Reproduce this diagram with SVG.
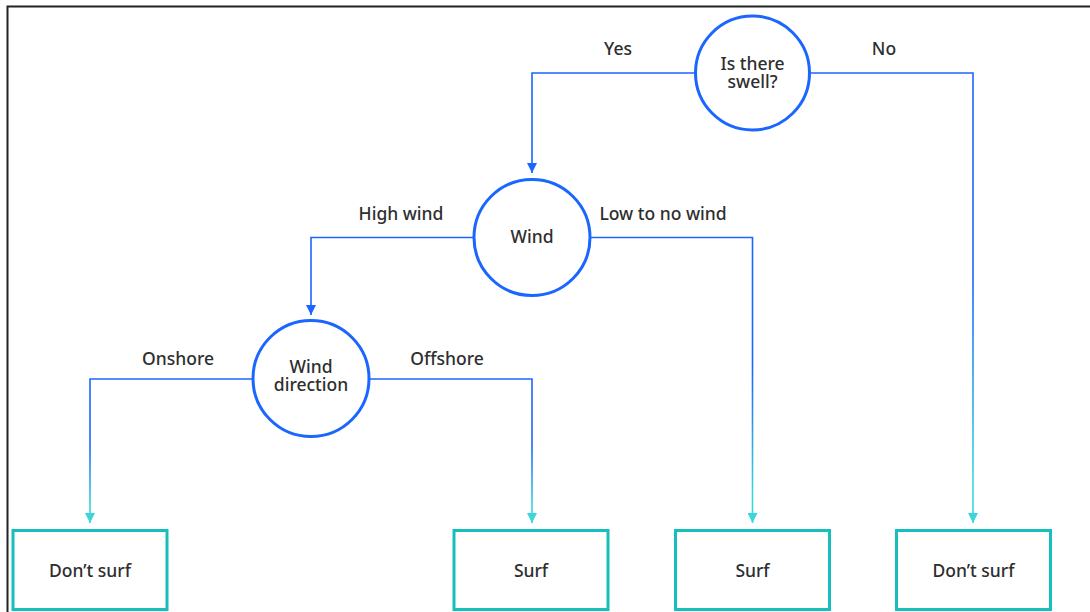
<svg xmlns="http://www.w3.org/2000/svg" width="1090" height="612" viewBox="0 0 1090 612">
  <style>
    .q { fill: #ffffff; stroke: #1a66ff; stroke-width: 3; }
    .leaf { fill: #ffffff; stroke: #17bfbc; stroke-width: 3; }
    .t { font-family: "Noto Sans", "Open Sans", sans-serif; font-size: 17.5px; font-weight: 500; fill: #2e2e2e; text-anchor: middle; }
    .edge { fill: none; stroke-width: 1.6; }
    .blue { stroke: #1a66ff; }
    .grad { stroke: url(#g); }
  </style>
  <defs>
    <linearGradient id="g" x1="0" y1="0" x2="0" y2="1">
      <stop offset="0.45" stop-color="#1a66ff"/>
      <stop offset="0.9" stop-color="#3bd6dc"/>
    </linearGradient>
    <marker id="ab" viewBox="0 0 10 10" refX="10" refY="5" markerWidth="10" markerHeight="10" markerUnits="userSpaceOnUse" orient="auto">
      <path d="M0,0 L10,5 L0,10 Z" fill="#1a66ff"/>
    </marker>
    <marker id="ac" viewBox="0 0 10 10" refX="10" refY="5" markerWidth="10" markerHeight="10" markerUnits="userSpaceOnUse" orient="auto">
      <path d="M0,0 L10,5 L0,10 Z" fill="#3bd6dc"/>
    </marker>
  </defs>

  <rect x="0" y="0" width="1090" height="612" fill="#ffffff"/>
  <g id="frame" fill="none" stroke="#222222" stroke-width="2">
    <path d="M7.5,612 V6.5 H1090"/>
  </g>

  <g id="connectors">
    <path class="edge blue" d="M695,73 H532 V173" marker-end="url(#ab)"/>
    <path class="edge grad" d="M810,73 H973 V523" marker-end="url(#ac)"/>
    <path class="edge blue" d="M474,237.5 H311 V315" marker-end="url(#ab)"/>
    <path class="edge grad" d="M590,237.5 H752.5 V523" marker-end="url(#ac)"/>
    <path class="edge grad" d="M253,379 H90 V523" marker-end="url(#ac)"/>
    <path class="edge grad" d="M369,379 H532 V523" marker-end="url(#ac)"/>
    <text class="t" x="618" y="55">Yes</text>
    <text class="t" x="884" y="55">No</text>
    <text class="t" x="401" y="220">High wind</text>
    <text class="t" x="663" y="220">Low to no wind</text>
    <text class="t" x="178" y="365">Onshore</text>
    <text class="t" x="447" y="365">Offshore</text>
  </g>

  <g id="swell">
    <circle class="q" cx="752.5" cy="73" r="57"/>
    <text class="t" x="752.5" y="70">Is there<tspan x="752.5" dy="18">swell?</tspan></text>
  </g>
  <g id="wind">
    <circle class="q" cx="532" cy="237.5" r="58"/>
    <text class="t" x="532" y="243">Wind</text>
  </g>
  <g id="winddir">
    <circle class="q" cx="311" cy="378.5" r="58"/>
    <text class="t" x="311" y="373">Wind<tspan x="311" dy="18">direction</tspan></text>
  </g>

  <g id="leaf1">
    <rect class="leaf" x="13" y="530.5" width="154" height="79"/>
    <text class="t" x="90" y="577">Don’t surf</text>
  </g>
  <g id="leaf2">
    <rect class="leaf" x="454" y="530.5" width="154" height="79"/>
    <text class="t" x="531" y="577">Surf</text>
  </g>
  <g id="leaf3">
    <rect class="leaf" x="675.5" y="530.5" width="154" height="79"/>
    <text class="t" x="752.5" y="577">Surf</text>
  </g>
  <g id="leaf4">
    <rect class="leaf" x="896.5" y="530.5" width="154" height="79"/>
    <text class="t" x="973.5" y="577">Don’t surf</text>
  </g>
</svg>
